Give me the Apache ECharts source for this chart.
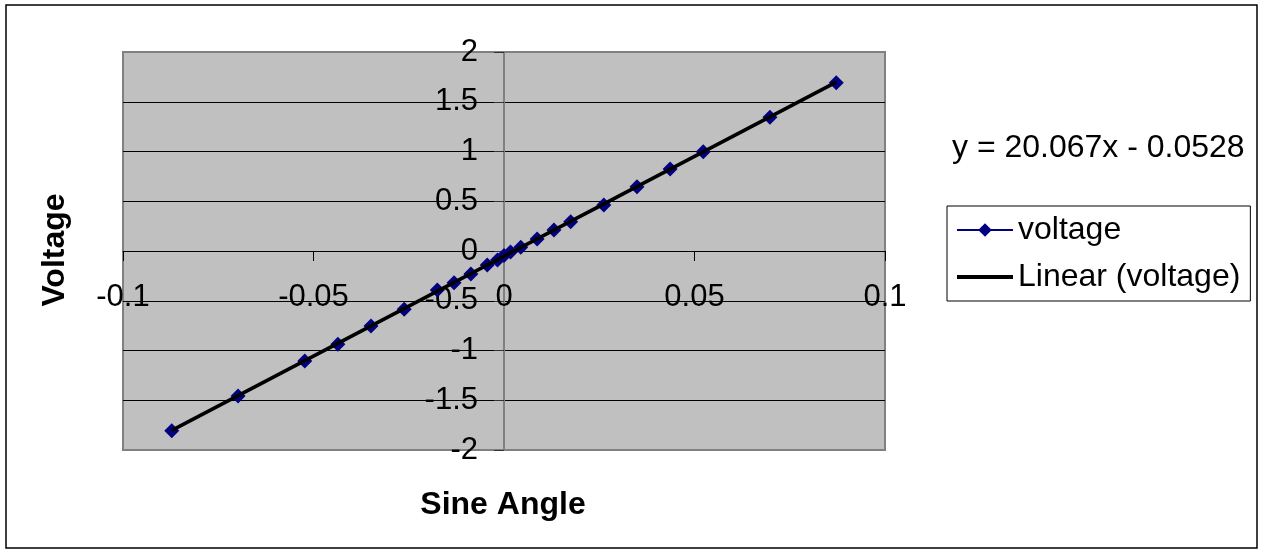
<!DOCTYPE html>
<html>
<head>
<meta charset="utf-8">
<script src="https://cdn.jsdelivr.net/npm/echarts@6/dist/echarts.min.js"></script>
<style>
  html, body { margin: 0; padding: 0; background: #fff; }
  #chart { width: 1261px; height: 552px; }
</style>
</head>
<body>
<div id="chart"></div>
<script>
// Measured points: sine of the tilt angle against output voltage
const sineAngle = [-0.0872, -0.0698, -0.0523, -0.0436, -0.0349, -0.0262, -0.0175, -0.0131,
  -0.0087, -0.0044, -0.0017, 0, 0.0017, 0.0044, 0.0087, 0.0131, 0.0175, 0.0262,
  0.0349, 0.0436, 0.0523, 0.0698, 0.0872];
const voltage = [-1.806, -1.457, -1.106, -0.938, -0.754, -0.586, -0.392, -0.318,
  -0.231, -0.141, -0.09, -0.045, -0.01, 0.037, 0.12, 0.211, 0.295, 0.462,
  0.646, 0.824, 0.998, 1.343, 1.692];

// Least-squares fit shown in the equation label
const SLOPE = 20.067;
const INTERCEPT = -0.0528;

// Axis ticks
const xTicks = [-0.1, -0.05, 0, 0.05, 0.1];
const yTicks = [-2, -1.5, -1, -0.5, 0, 0.5, 1, 1.5, 2];

const seriesName = 'voltage';
const trendName = 'Linear (voltage)';
const xTitle = 'Sine Angle';
const yTitle = 'Voltage';

const FONT = "'Liberation Sans', Arial, sans-serif";

// Plot area geometry (pixels)
const GRID = { left: 123, top: 52, width: 762, height: 398 };

const points = sineAngle.map((x, i) => [x, voltage[i]]);
const xMin = Math.min(...sineAngle);
const xMax = Math.max(...sineAngle);
const fitLine = [xMin, xMax].map(x => [x, SLOPE * x + INTERCEPT]);
const equation = 'y = ' + SLOPE + 'x ' + (INTERCEPT < 0 ? '- ' : '+ ') + Math.abs(INTERCEPT);

// Both axes cross at the origin: shift each one from its edge to the zero of the other scale
const xLo = xTicks[0], xHi = xTicks[xTicks.length - 1];
const yLo = yTicks[0], yHi = yTicks[yTicks.length - 1];
const xAxisShift = -GRID.height * (0 - yLo) / (yHi - yLo);
const yAxisShift = -GRID.width * (0 - xLo) / (xHi - xLo);

const chart = echarts.init(document.getElementById('chart'), null, { renderer: 'canvas' });

chart.setOption({
  animation: false,
  backgroundColor: '#ffffff',
  textStyle: { fontFamily: FONT },
  grid: Object.assign({
    show: true,
    backgroundColor: '#c0c0c0',
    borderColor: '#808080',
    borderWidth: 2
  }, GRID),
  xAxis: {
    type: 'value',
    position: 'bottom',
    offset: xAxisShift,
    min: xLo,
    max: xHi,
    interval: xTicks[1] - xTicks[0],
    axisLine: { show: true, onZero: false, lineStyle: { color: '#000', width: 1 } },
    axisTick: { show: true, length: 10, lineStyle: { color: '#000' } },
    axisLabel: {
      margin: 31, color: '#000', fontSize: 31, fontFamily: FONT, lineHeight: 31,
      showMinLabel: true, showMaxLabel: true, hideOverlap: false
    },
    splitLine: { show: false },
    z: 1
  },
  yAxis: {
    type: 'value',
    position: 'left',
    offset: yAxisShift,
    min: yLo,
    max: yHi,
    interval: yTicks[1] - yTicks[0],
    axisLine: { show: true, onZero: false, lineStyle: { color: '#808080', width: 2 } },
    axisTick: { show: true, length: 10, lineStyle: { color: '#333' } },
    axisLabel: {
      margin: 26, color: '#000', fontSize: 31, fontFamily: FONT,
      showMinLabel: true, showMaxLabel: true, hideOverlap: false
    },
    splitLine: {
      show: true, showMinLine: false, showMaxLine: false,
      lineStyle: { color: '#000', width: 1 }
    },
    z: 1
  },
  legend: {
    orient: 'vertical',
    left: 947, top: 206,
    padding: [8, 10, 8, 9],
    itemWidth: 56, itemHeight: 17, itemGap: 15,
    borderColor: '#000', borderWidth: 1,
    backgroundColor: '#fff',
    textStyle: { fontSize: 32, lineHeight: 30, color: '#000', fontFamily: FONT },
    data: [
      { name: seriesName },
      { name: trendName, icon: 'path://M0,0H56V4H0Z', itemStyle: { color: '#000' } }
    ]
  },
  graphic: [
    {
      type: 'rect', silent: true, z: -1,
      shape: { x: 6, y: 5, width: 1251, height: 543 },
      style: { fill: 'none', stroke: '#000', lineWidth: 1.5 }
    },
    {
      type: 'text', x: 952, y: 148,
      style: {
        text: equation, fontSize: 32, fill: '#000', fontFamily: FONT,
        align: 'left', verticalAlign: 'middle'
      }
    },
    {
      type: 'text', x: 55, y: 250, rotation: Math.PI / 2,
      style: {
        text: yTitle, fontSize: 32, fontWeight: 'bold', fill: '#000', fontFamily: FONT,
        align: 'center', verticalAlign: 'middle'
      }
    },
    {
      type: 'text', x: 503, y: 505,
      style: {
        text: xTitle, fontSize: 32, fontWeight: 'bold', fill: '#000', fontFamily: FONT,
        align: 'center', verticalAlign: 'middle'
      }
    }
  ],
  series: [
    {
      name: seriesName,
      type: 'line',
      data: points,
      symbol: 'diamond',
      symbolSize: 15,
      showAllSymbol: true,
      lineStyle: { color: '#000080', width: 1.5 },
      itemStyle: { color: '#000080' },
      z: 2
    },
    {
      name: trendName,
      type: 'line',
      data: fitLine,
      symbol: 'none',
      lineStyle: { color: '#000', width: 3.5 },
      itemStyle: { color: '#000' },
      z: 3
    }
  ]
});
</script>
</body>
</html>
